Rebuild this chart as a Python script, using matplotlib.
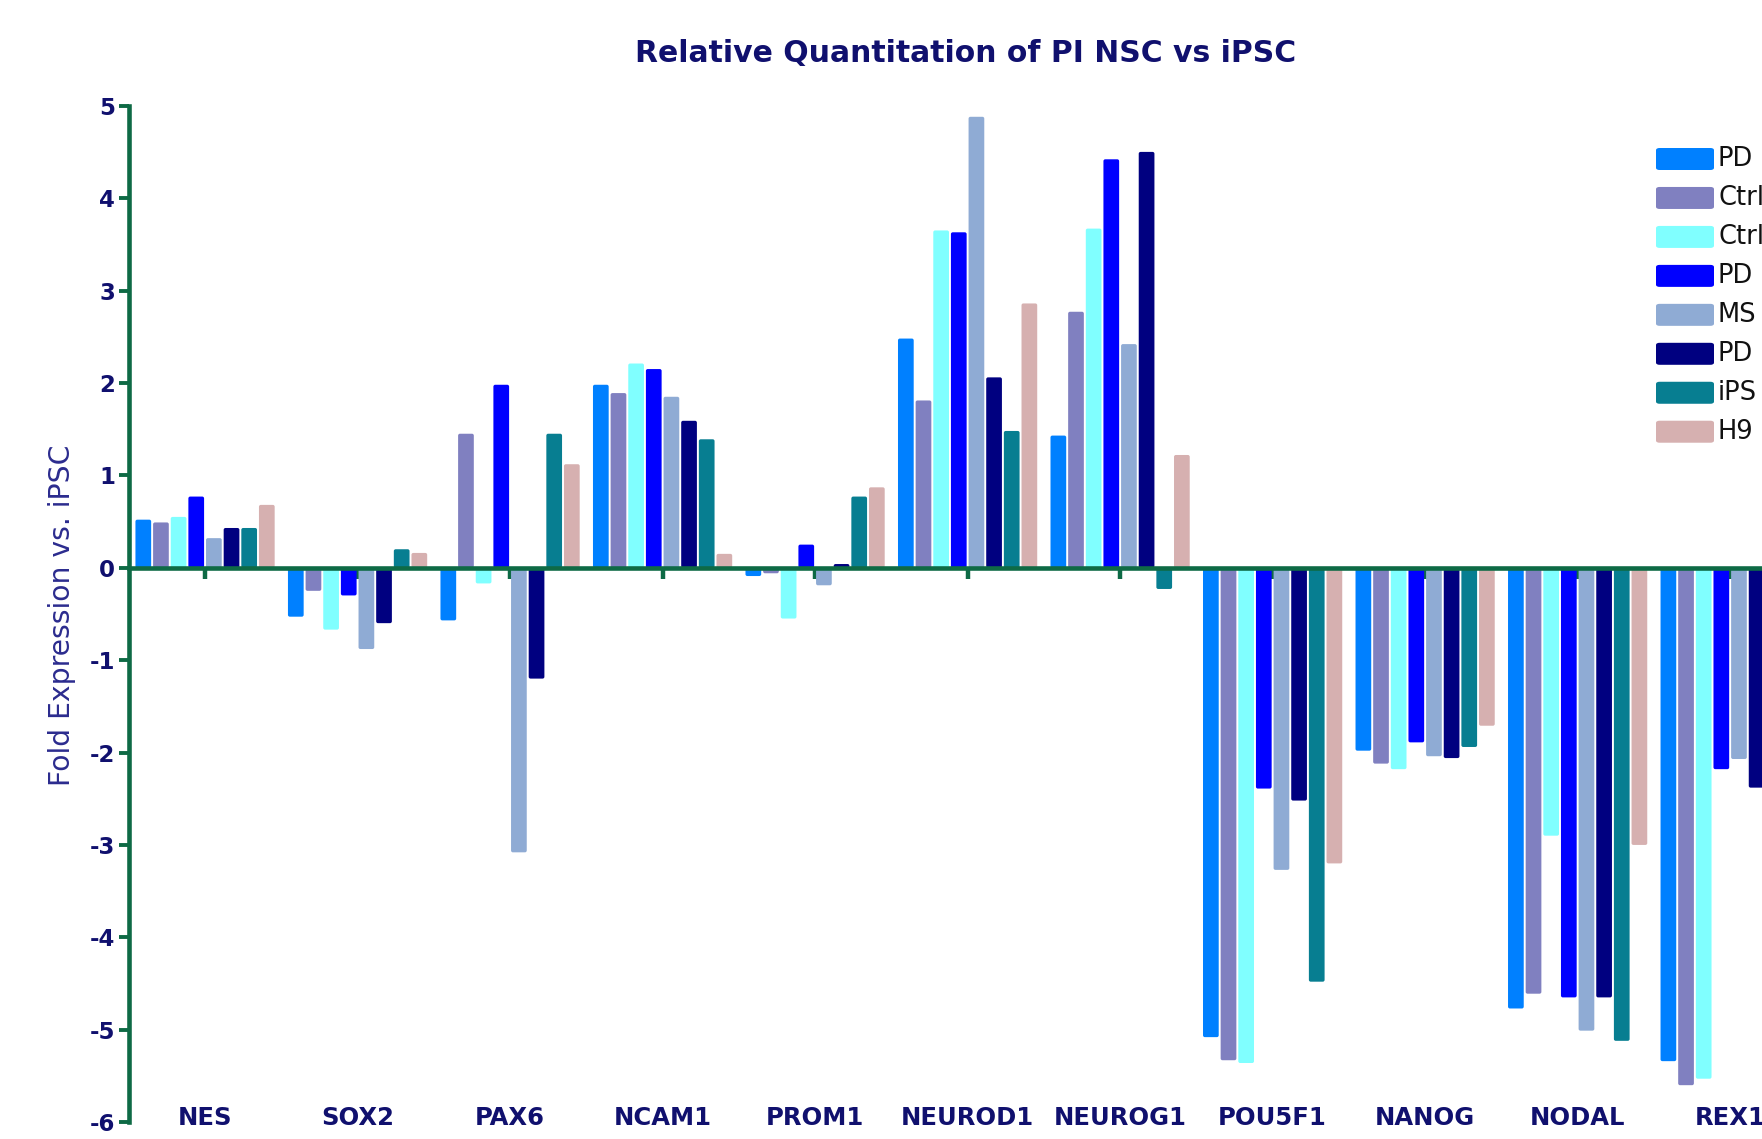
import numpy as np
import matplotlib.pyplot as plt
from matplotlib.patches import FancyBboxPatch

plt.rcParams["axes.unicode_minus"] = False

# Genes on the x axis
genes = ["NES", "SOX2", "PAX6", "NCAM1", "PROM1", "NEUROD1", "NEUROG1",
         "POU5F1", "NANOG", "NODAL", "REX1"]

# Cell lines (legend order; names run off the right edge, so only the start shows)
lines = ["PD", "Ctrl", "Ctrl", "PD", "MS", "PD", "iPS", "H9"]
colors = ["#0080FF", "#8080C0", "#80FFFF", "#0000FF", "#8FABD4",
          "#000080", "#077E91", "#D6B0B0"]

# Fold expression vs. iPSC, one list per cell line
pd1 = [0.52, -0.53, -0.57, 1.98, -0.09, 2.48, 1.43, -5.08, -1.98, -4.77, -5.34]
ctrl1 = [0.49, -0.25, 1.45, 1.89, -0.06, 1.81, 2.77, -5.33, -2.12, -4.61, -5.60]
ctrl2 = [0.55, -0.67, -0.17, 2.21, -0.55, 3.65, 3.67, -5.36, -2.18, -2.90, -5.53]
pd2 = [0.77, -0.30, 1.98, 2.15, 0.25, 3.63, 4.42, -2.39, -1.89, -4.65, -2.18]
ms = [0.32, -0.88, -3.08, 1.85, -0.19, 4.88, 2.42, -3.27, -2.04, -5.01, -2.07]
pd3 = [0.43, -0.60, -1.20, 1.59, 0.04, 2.06, 4.50, -2.52, -2.06, -4.65, -2.38]
ipsc = [0.43, 0.20, 1.45, 1.39, 0.77, 1.48, -0.23, -4.48, -1.94, -5.12, -5.00]
h9 = [0.68, 0.16, 1.12, 0.15, 0.87, 2.86, 1.22, -3.20, -1.71, -3.00, -3.00]
series = [pd1, ctrl1, ctrl2, pd2, ms, pd3, ipsc, h9]

AXIS_GREEN = "#0E6A45"
NAVY = "#10106E"
SLOT = 0.1157
BAR_W = 0.103

fig = plt.figure(figsize=(17.62, 11.39), dpi=100)
# axes deliberately runs past the right edge of the canvas
ax = fig.add_axes([0.0731, 0.0148, 0.9521, 0.8924])

x = np.arange(len(genes))
for i, (vals, c) in enumerate(zip(series, colors)):
    bars = ax.bar(x + (i - 3.5) * SLOT, vals, width=BAR_W, color=c, linewidth=0)
    # swap plain rectangles for ones with softened corners
    for r in bars:
        r.set_visible(False)
        y0 = min(r.get_y(), r.get_y() + r.get_height())
        h = abs(r.get_height())
        ax.add_patch(FancyBboxPatch((r.get_x(), y0), r.get_width(), h,
                                    boxstyle="round,pad=0,rounding_size=0.012",
                                    mutation_aspect=1.65, facecolor=c,
                                    edgecolor="none", zorder=2))

ax.set_xlim(-0.5, len(genes) - 0.5)
ax.set_ylim(-6, 5)

for side in ["top", "right"]:
    ax.spines[side].set_visible(False)
ax.spines["bottom"].set_position(("data", 0))
ax.spines["bottom"].set_color(AXIS_GREEN)
ax.spines["bottom"].set_linewidth(3.3)
ax.spines["bottom"].set_zorder(3)
ax.spines["left"].set_color(AXIS_GREEN)
ax.spines["left"].set_linewidth(3.3)

ax.set_xticks(x)
ax.tick_params(axis="x", direction="out", length=8, width=3.2,
               color=AXIS_GREEN, labelbottom=False)
ax.set_yticks(np.arange(-6, 6))
ax.tick_params(axis="y", direction="out", length=7, width=2.8,
               color=AXIS_GREEN, pad=3, labelsize=16.5, labelcolor=NAVY)
for lab in ax.get_yticklabels():
    lab.set_fontweight("bold")

# gene names sit along the bottom of the plot
for xi, g in zip(x, genes):
    ax.text(xi, -5.95, g, ha="center", va="center", fontsize=17.5,
            fontweight="bold", color=NAVY)

fig.text(0.548, 0.9526, "Relative Quantitation of PI NSC vs iPSC",
         ha="center", va="center", fontsize=21.5, fontweight="bold", color=NAVY)
fig.text(0.0352, 0.46, "Fold Expression vs. iPSC", rotation=90,
         ha="center", va="center", fontsize=20.3, color="#2B2B8E")

# legend drawn by hand so it can hang off the right edge
W, H = 1762.0, 1139.0
for i, (name, c) in enumerate(zip(lines, colors)):
    yc = 159 + i * 38.96
    fig.patches.append(FancyBboxPatch((1656 / W, 1 - (yc + 11) / H), 58 / W, 22 / H,
                                      boxstyle="round,pad=0,rounding_size=0.002",
                                      transform=fig.transFigure, facecolor=c,
                                      edgecolor="none"))
    fig.text(1718 / W, 1 - yc / H, name, ha="left", va="center",
             fontsize=18.5, color="#111111")

fig.savefig("out.png", dpi=100)
